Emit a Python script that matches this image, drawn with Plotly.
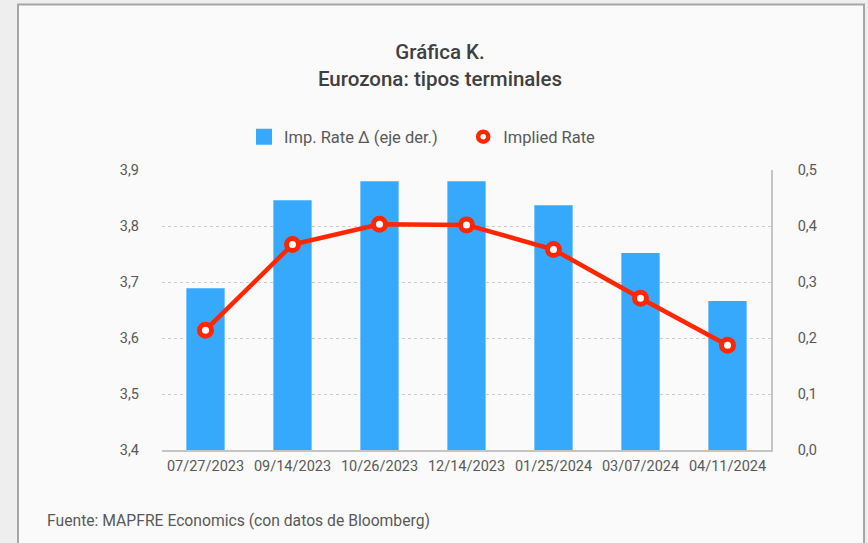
import plotly.graph_objects as go

categories = ["07/27/2023", "09/14/2023", "10/26/2023", "12/14/2023",
              "01/25/2024", "03/07/2024", "04/11/2024"]
rate_delta = [0.289, 0.446, 0.480, 0.480, 0.437, 0.352, 0.266]
implied_rate = [3.614, 3.767, 3.803, 3.802, 3.758, 3.671, 3.587]
left_ticks = [3.4, 3.5, 3.6, 3.7, 3.8, 3.9]
right_ticks = [0.0, 0.1, 0.2, 0.3, 0.4, 0.5]

FONT = "Roboto"
W, H = 868, 543
L, R, T, B = 162, 771, 170, 450
RED = "#ff2600"
BLUE = "#37a9fc"
NB = "\u00a0"

fig = go.Figure()
# bars on the primary axis (drawn on the right side), line on overlaying axis so it sits on top
fig.add_trace(go.Bar(
    x=categories, y=rate_delta, yaxis="y",
    name="Imp. Rate Δ (eje der.)", showlegend=False,
    marker=dict(color=BLUE, line=dict(width=0)),
))
fig.add_trace(go.Scatter(
    x=categories, y=implied_rate, yaxis="y2",
    name="Implied Rate", mode="lines+markers", showlegend=False,
    line=dict(color=RED, width=4.5),
    marker=dict(symbol="circle", size=12, color="white",
                line=dict(color=RED, width=5)),
))
# legend-only entries
fig.add_trace(go.Scatter(
    x=[None], y=[None], yaxis="y",
    name="Imp. Rate Δ (eje der.)" + NB * 5, mode="markers",
    marker=dict(symbol="square", size=17, color=BLUE, line=dict(width=0)),
))
fig.add_trace(go.Scatter(
    x=[None], y=[None], yaxis="y2",
    name="Implied Rate", mode="markers",
    marker=dict(symbol="circle", size=10, color="white",
                line=dict(color=RED, width=4.5)),
))

def px_x(x):
    return (x - L) / (R - L)

def px_y(y):
    return (B - y) / (B - T)

fig.update_layout(
    width=W, height=H,
    margin=dict(l=L, r=W - R, t=T, b=H - B, pad=0),
    paper_bgcolor="#eeeeee",
    plot_bgcolor="#fafafa",
    separators=",.",
    font=dict(family=FONT, color="#595959", size=14),
    title=dict(text="Gráfica K.<br>Eurozona: tipos terminales",
               x=440 / W, xanchor="center", y=1 - 59 / H, yanchor="middle",
               font=dict(family=FONT, size=20.5, color="#404040", weight=500)),
    bargap=0.56,
    showlegend=True,
    legend=dict(orientation="h", x=px_x(244), xanchor="left",
                y=px_y(137), yanchor="middle", bgcolor="rgba(0,0,0,0)",
                font=dict(family=FONT, size=16.5, color="#595959"),
                itemwidth=30, traceorder="normal"),
    xaxis=dict(type="category", showgrid=False, showline=True,
               linecolor="#c4c4c4", linewidth=1.5, ticks="",
               tickfont=dict(size=14.5, color="#595959"),
               ticklabelstandoff=2, zeroline=False),
    yaxis=dict(range=[0.0, 0.5], tickvals=right_ticks, tickformat=".1f",
               side="right", showgrid=False,
               showline=True, linecolor="#c4c4c4", linewidth=1.5,
               zeroline=False, ticks="", ticklabelstandoff=22,
               tickfont=dict(size=14.5, color="#595959")),
    yaxis2=dict(range=[3.4, 3.9], tickvals=left_ticks, tickformat=".1f",
                overlaying="y", side="left",
                showgrid=True, gridcolor="#cccccc", griddash="dot",
                gridwidth=1, showline=False, zeroline=False, ticks="",
                ticklabelstandoff=22,
                tickfont=dict(size=14.5, color="#595959")),
    shapes=[dict(type="rect", xref="paper", yref="paper",
                 x0=px_x(18), x1=px_x(864), y0=px_y(H + 20), y1=px_y(4.5),
                 line=dict(color="#a6a6a6", width=2),
                 fillcolor="#fafafa", layer="below")],
    annotations=[dict(text="Fuente: MAPFRE Economics (con datos de Bloomberg)",
                      xref="paper", yref="paper", x=px_x(45), y=px_y(520),
                      xanchor="left", yanchor="middle", showarrow=False,
                      font=dict(family=FONT, size=15.7, color="#595959"))],
)

fig.write_html("out.html", config={"displayModeBar": False},
               post_script="document.body.style.margin='0';document.body.style.overflow='hidden';")
